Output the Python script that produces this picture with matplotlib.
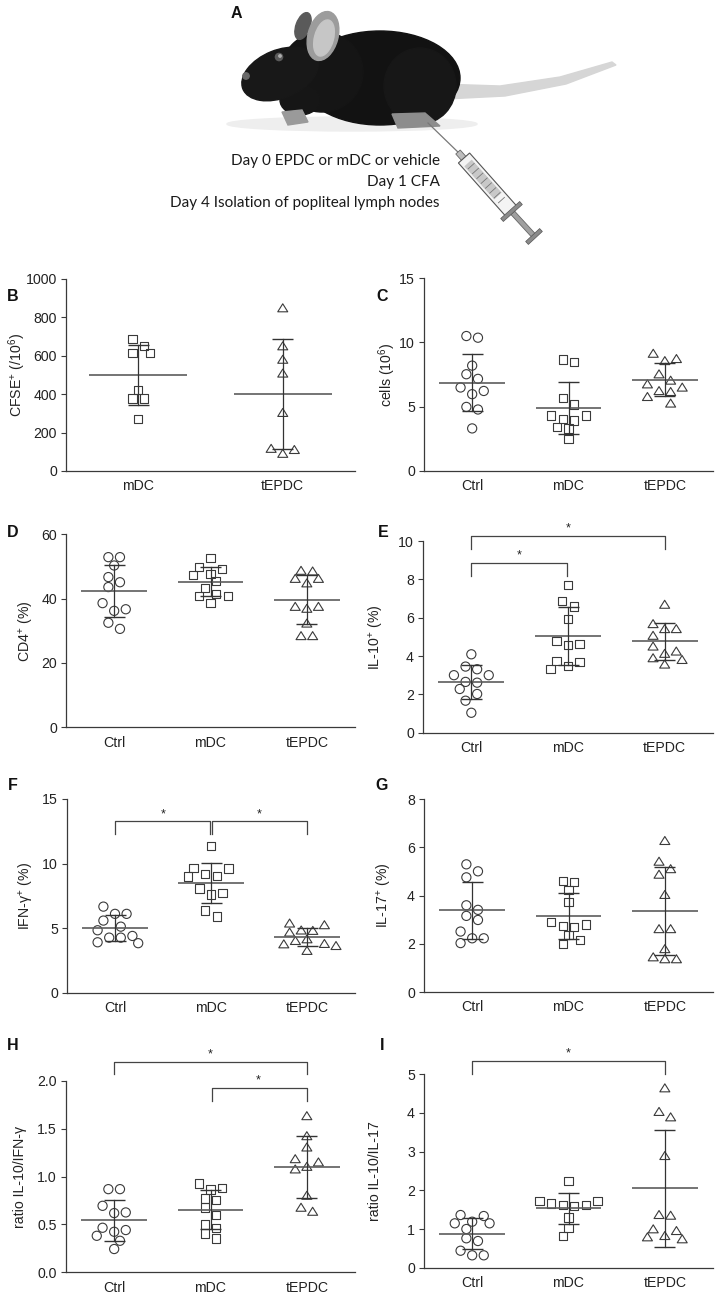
import numpy as np
import matplotlib
matplotlib.use('Agg')
import matplotlib.pyplot as plt
from matplotlib.patches import Ellipse, Polygon, Circle
from matplotlib.path import Path
from matplotlib.ticker import FormatStrFormatter

plt.rcParams['font.family'] = ['Liberation Sans', 'DejaVu Sans']
plt.rcParams['mathtext.fontset'] = 'custom'
plt.rcParams['mathtext.rm'] = 'Liberation Sans'
plt.rcParams['mathtext.it'] = 'Liberation Sans'
plt.rcParams['mathtext.default'] = 'regular'

# ---------------- data ----------------
groups3 = ['Ctrl', 'mDC', 'tEPDC']
groups2 = ['mDC', 'tEPDC']

cfse_mdc = [686, 651, 613, 616, 422, 377, 377, 271]
cfse_tepdc = [850, 652, 582, 510, 305, 118, 112, 92]

cells_ctrl = [10.49, 10.36, 8.19, 7.52, 7.16, 6.49, 6.22, 5.97, 4.98, 4.78, 3.31]
cells_mdc = [8.66, 8.47, 5.68, 5.17, 4.32, 4.32, 4.03, 3.93, 3.41, 3.31, 2.50]
cells_tepdc = [9.15, 8.74, 8.58, 7.55, 7.06, 6.77, 6.52, 6.18, 6.25, 5.79, 5.28]

cd4_ctrl = [52.9, 52.9, 50.3, 46.7, 45.1, 43.6, 36.7, 36.2, 38.6, 32.5, 30.6]
cd4_mdc = [52.6, 49.3, 49.8, 47.3, 47.7, 45.4, 43.4, 40.9, 40.9, 41.5, 38.6]
cd4_tepdc = [48.6, 48.8, 46.3, 46.3, 44.9, 37.6, 37.0, 37.6, 32.4, 28.5, 28.5]

il10_ctrl = [4.09, 3.45, 3.31, 3.00, 3.00, 2.61, 2.65, 2.28, 2.02, 1.67, 1.04]
il10_mdc = [7.71, 6.87, 6.58, 5.92, 4.80, 4.63, 4.59, 3.69, 3.74, 3.47, 3.31]
il10_tepdc = [6.70, 5.69, 5.43, 5.43, 5.08, 4.52, 4.26, 4.14, 3.91, 3.82, 3.58]

ifng_ctrl = [6.67, 6.11, 6.11, 5.59, 5.12, 4.84, 4.40, 4.27, 4.27, 3.84, 3.91]
ifng_mdc = [11.35, 9.65, 9.62, 9.18, 9.00, 9.05, 8.07, 7.71, 7.60, 6.36, 5.90]
ifng_tepdc = [5.40, 5.27, 4.86, 4.83, 4.70, 4.18, 4.05, 3.79, 3.66, 3.82, 3.28]

il17_ctrl = [5.30, 5.01, 4.76, 3.60, 3.41, 3.16, 2.99, 2.51, 2.23, 2.23, 2.03]
il17_mdc = [4.56, 4.60, 4.24, 3.73, 2.90, 2.80, 2.74, 2.71, 2.37, 2.16, 2.00]
il17_tepdc = [6.29, 5.43, 5.12, 4.89, 4.05, 2.63, 2.63, 1.80, 1.46, 1.38, 1.38]

r_ifng_ctrl = [0.868, 0.868, 0.694, 0.618, 0.625, 0.465, 0.423, 0.441, 0.381, 0.329, 0.243]
r_ifng_mdc = [0.927, 0.882, 0.865, 0.771, 0.753, 0.677, 0.600, 0.500, 0.465, 0.406, 0.354]
r_ifng_tepdc = [1.635, 1.426, 1.308, 1.152, 1.186, 1.079, 1.106, 0.804, 0.637, 0.679]

r_il17_ctrl = [1.362, 1.336, 1.147, 1.189, 1.147, 1.000, 0.760, 0.690, 0.439, 0.320, 0.320]
r_il17_mdc = [2.25, 1.731, 1.731, 1.620, 1.620, 1.664, 1.602, 1.302, 1.034, 0.819]
r_il17_tepdc = [4.65, 4.04, 3.90, 2.90, 1.375, 1.357, 1.005, 0.961, 0.832, 0.798, 0.747]

# significance brackets: (group a, group b, bar level, leg end level)
br_E = [(0, 2, 10.27, 9.57), (0, 1, 8.84, 8.18)]
br_F = [(0, 1, 13.26, 12.28), (1, 2, 13.26, 12.28)]
br_H = [(0, 2, 2.20, 2.07), (1, 2, 1.92, 1.79)]
br_I = [(0, 2, 5.34, 5.02)]

protocol = ['Day 0 EPDC or mDC or vehicle', 'Day 1 CFA',
            'Day 4 Isolation of popliteal lymph nodes']

# ---------------- style ----------------
W, H = 715, 1302
fig = plt.figure(figsize=(W / 100, H / 100), dpi=100)
fig.patch.set_facecolor('white')

MK = '#3a3a3a'
MEAN_C = '#5c5c5c'
SD_C = '#333333'
AX_C = '#3a3a3a'
TXT = '#222222'
FS = 10.2

tri = Path([(-1, -0.8), (1, -0.8), (0, 0.8), (-1, -0.8)],
           [Path.MOVETO, Path.LINETO, Path.LINETO, Path.CLOSEPOLY])
MARKERS = {'Ctrl': ('o', 6.6), 'mDC': ('s', 6.0), 'tEPDC': (tri, 7.2)}


def swarm_px(ypx, step=5.8, row_t=8.0, dmin=9.0):
    """Prism-like centred rows; collisions resolved on a grid of `step` px."""
    ypx = np.asarray(ypx, float)
    order = list(np.argsort(-ypx, kind='stable'))
    rows = []
    for idx in order:
        if rows and (ypx[rows[-1][0]] - ypx[idx]) < row_t:
            rows[-1].append(idx)
        else:
            rows.append([idx])
    offs = np.zeros(len(ypx))
    placed = []

    def free(x, y):
        return all(np.hypot(x - px, y - py) >= dmin for px, py in placed)

    for row in rows:
        n = len(row)
        pos = [(j - (n - 1) / 2) * 2 * step for j in range(n)]
        pos = sorted(pos, key=lambda p: (-abs(p), p))
        for idx, p in zip(row, pos):
            y = ypx[idx]
            if not free(p, y):
                cands = sorted((k * step for k in range(-12, 13)),
                               key=lambda c: (abs(c - p), abs(c), c))
                for c in cands:
                    if free(c, y):
                        p = c
                        break
            offs[idx] = p
            placed.append((p, y))
    return offs


def panel(rect, cats, datas, ylim, yticks, ylabel, lab_x, fmt=None, brackets=()):
    left, right, y0, ytop = rect
    ax = fig.add_axes([left / W, 1 - y0 / H, (right - left) / W, (y0 - ytop) / H])
    n = len(cats)
    ax.set_xlim(-0.5, n - 0.5)
    ax.set_ylim(*ylim)
    ppx = (right - left) / n
    ppy = (y0 - ytop) / (ylim[1] - ylim[0])
    for i, (cat, vals) in enumerate(zip(cats, datas)):
        vals = np.asarray(vals, float)
        m, ms = MARKERS[cat]
        offs = swarm_px(vals * ppy) / ppx
        ax.scatter(i + offs, vals, marker=m, s=ms ** 2, facecolors='none',
                   edgecolors=MK, linewidths=0.8, zorder=3, clip_on=False)
        mu, sd = vals.mean(), vals.std(ddof=1)
        ax.plot([i - 0.34, i + 0.34], [mu, mu], color=MEAN_C, lw=1.2, zorder=4,
                solid_capstyle='butt')
        ax.plot([i, i], [mu - sd, mu + sd], color=SD_C, lw=0.9, zorder=4)
        cap = 10.5 / ppx
        for yy in (mu - sd, mu + sd):
            ax.plot([i - cap, i + cap], [yy, yy], color=SD_C, lw=1.0, zorder=4,
                    solid_capstyle='butt')
    for (a, b, top, leg) in brackets:
        d = 1.2 / ppx
        xa = a + (d if a == 1 else 0)
        xb = b - (d if b == 1 else 0)
        ax.plot([xa, xa, xb, xb], [leg, top, top, leg], color='#444444', lw=0.9,
                clip_on=False, zorder=5)
        ax.text((a + b) / 2, top + 4.5 / ppy, '*', ha='center', va='baseline',
                fontsize=9, color=TXT, clip_on=False)
    for s in ('top', 'right'):
        ax.spines[s].set_visible(False)
    for s in ('left', 'bottom'):
        ax.spines[s].set_color(AX_C)
        ax.spines[s].set_linewidth(0.9)
    ax.set_xticks(range(n))
    ax.set_xticklabels(cats)
    ax.set_yticks(yticks)
    if fmt:
        ax.yaxis.set_major_formatter(FormatStrFormatter(fmt))
    ax.tick_params(axis='x', length=0, pad=6, labelsize=FS, labelcolor=TXT)
    ax.tick_params(axis='y', length=3.5, width=0.8, color=AX_C, pad=3,
                   labelsize=FS, labelcolor=TXT)
    ax.set_ylabel(ylabel, fontsize=10.2, color=TXT)
    ax.yaxis.label.set_verticalalignment('center')
    ax.yaxis.set_label_coords((lab_x - left) / (right - left), 0.5)
    return ax


panel((66, 355, 471, 279), groups2, [cfse_mdc, cfse_tepdc], (0, 1000),
      range(0, 1001, 200), r'CFSE$^{+}$ (/10$^{6}$)', 17)
panel((424, 713, 471, 278), groups3, [cells_ctrl, cells_mdc, cells_tepdc], (0, 15),
      [0, 5, 10, 15], r'cells (10$^{6}$)', 387)
panel((66, 355, 727.3, 534.3), groups3, [cd4_ctrl, cd4_mdc, cd4_tepdc], (0, 60),
      [0, 20, 40, 60], r'CD4$^{+}$ (%)', 27)
panel((423, 713, 732.7, 541), groups3, [il10_ctrl, il10_mdc, il10_tepdc], (0, 10),
      [0, 2, 4, 6, 8, 10], r'IL-10$^{+}$ (%)', 377, brackets=br_E)
panel((67, 355, 992.8, 799), groups3, [ifng_ctrl, ifng_mdc, ifng_tepdc], (0, 15),
      [0, 5, 10, 15], r'IFN-γ$^{+}$ (%)', 27, brackets=br_F)
panel((424, 713, 992, 799.3), groups3, [il17_ctrl, il17_mdc, il17_tepdc], (0, 8),
      [0, 2, 4, 6, 8], r'IL-17$^{+}$ (%)', 385)
panel((66, 355, 1272.3, 1080.7), groups3, [r_ifng_ctrl, r_ifng_mdc, r_ifng_tepdc],
      (0, 2.0), [0, 0.5, 1.0, 1.5, 2.0], 'ratio IL-10/IFN-γ', 20, fmt='%.1f',
      brackets=br_H)
panel((424, 713, 1267.7, 1074.3), groups3, [r_il17_ctrl, r_il17_mdc, r_il17_tepdc],
      (0, 5), [0, 1, 2, 3, 4, 5], 'ratio IL-10/IL-17', 375, brackets=br_I)

# panel letters
for lab, (x, y) in {'B': (13, 297), 'C': (382, 297), 'D': (13, 532), 'E': (383, 532),
                    'F': (13, 785), 'G': (382, 785), 'H': (13, 1045),
                    'I': (382, 1045)}.items():
    fig.text(x / W, 1 - y / H, lab, fontsize=11.5, fontweight='bold',
             ha='center', va='center', color='#111111')

# ---------------- panel A illustration ----------------
axA = fig.add_axes([0, 1 - 250 / H, 1, 250 / H])
axA.set_xlim(0, W)
axA.set_ylim(250, 0)
axA.axis('off')
axA.text(236, 13, 'A', fontsize=11.5, fontweight='bold', ha='center', va='center',
         color='#111111')

axA.add_patch(Ellipse((352, 124), 250, 14, color='#eeeeee', zorder=1))
tail = [(440, 84), (500, 86), (560, 77), (612, 62), (616, 65), (566, 84),
        (505, 96), (445, 99)]
axA.add_patch(Polygon(tail, closed=True, color='#d6d6d6', zorder=2))
axA.add_patch(Ellipse((380, 78), 160, 94, color='#121212', zorder=3))
axA.add_patch(Ellipse((420, 86), 72, 76, color='#171717', zorder=3))
axA.add_patch(Ellipse((322, 72), 82, 80, color='#151515', zorder=3))
axA.add_patch(Ellipse((280, 74), 80, 48, angle=-22, color='#181818', zorder=4))
axA.add_patch(Ellipse((300, 100), 40, 30, color='#161616', zorder=3))
axA.add_patch(Circle((246, 76), 3.2, color='#6a6a6a', zorder=5))
axA.add_patch(Circle((279, 57), 3.6, color='#5a5a5a', zorder=5))
axA.add_patch(Circle((280, 56), 1.2, color='#b0b0b0', zorder=6))
axA.add_patch(Ellipse((303, 26), 14, 28, angle=20, color='#5a5a5a', zorder=4))
axA.add_patch(Ellipse((323, 36), 30, 50, angle=15, color='#9c9c9c', zorder=5))
axA.add_patch(Ellipse((324, 38), 19, 37, angle=15, color='#c6c6c6', zorder=6))
axA.add_patch(Polygon([(282, 112), (302, 110), (308, 122), (288, 125)],
                      closed=True, color='#9a9a9a', zorder=5))
axA.add_patch(Polygon([(392, 114), (425, 113), (440, 126), (398, 128)],
                      closed=True, color='#8c8c8c', zorder=5))


def rod(p0, p1, w, **kw):
    p0, p1 = np.array(p0, float), np.array(p1, float)
    u = (p1 - p0) / np.linalg.norm(p1 - p0)
    nrm = np.array([-u[1], u[0]]) * w / 2
    axA.add_patch(Polygon([p0 + nrm, p1 + nrm, p1 - nrm, p0 - nrm], closed=True, **kw))


axA.plot([428, 462], [123, 156], color='#777777', lw=0.9, zorder=6)
rod((458, 152), (466, 161), 6, facecolor='#bdbdbd', edgecolor='#666666', lw=0.6, zorder=7)
rod((464, 158), (512, 212), 15, facecolor='#f4f4f4', edgecolor='#555555', lw=0.8, zorder=7)
rod((468, 163), (498, 196), 10, facecolor='#c8c8c8', edgecolor='none', zorder=8)
for k in range(8):
    t = 0.15 + k * 0.09
    cx, cy = 464 + t * 48, 158 + t * 54
    axA.plot([cx - 3, cx + 3], [cy + 2.7, cy - 2.7], color='#777777', lw=0.6, zorder=9)
rod((512, 212), (534, 236), 5, facecolor='#a0a0a0', edgecolor='#666666', lw=0.6, zorder=7)
rod((502, 220), (521, 203), 4, facecolor='#8a8a8a', edgecolor='#555555', lw=0.5, zorder=8)
rod((527, 243), (541, 230), 4, facecolor='#8a8a8a', edgecolor='#555555', lw=0.5, zorder=8)

for k, line in enumerate(protocol):
    axA.text(440, 161 + k * 21, line, ha='right', va='center', fontsize=11,
             family=['Lato', 'DejaVu Sans'], color='#1a1a1a')

fig.savefig('out.png', dpi=100, facecolor='white')
